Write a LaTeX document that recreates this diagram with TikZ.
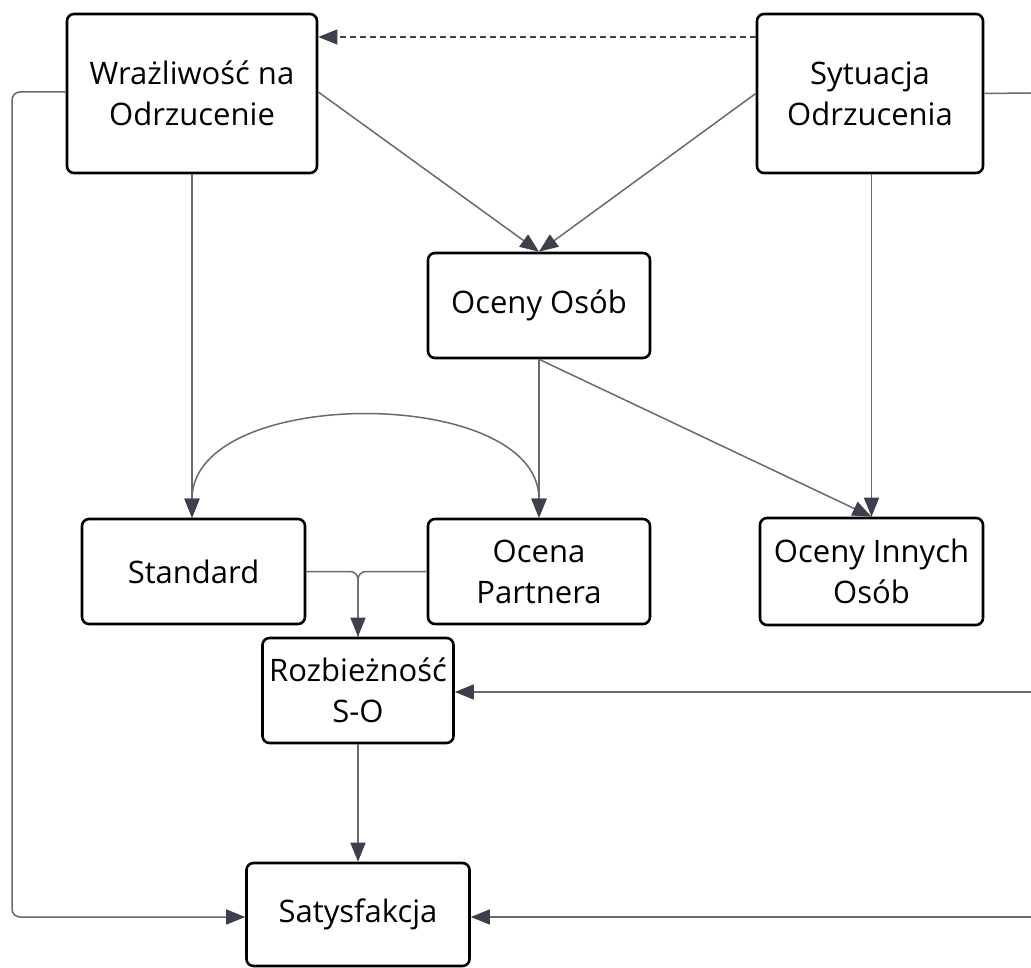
\documentclass[tikz,border=0pt]{standalone}
\usepackage{fontspec}
\setmainfont{Open Sans}
\usetikzlibrary{arrows.meta}
\definecolor{linec}{HTML}{6A6A6A}
\definecolor{tipc}{HTML}{3B404C}
\begin{document}
\begin{tikzpicture}[x=1pt,y=-1pt,
  box/.style={draw=black,line width=2.6pt,rounded corners=7pt,fill=white,
    align=center,inner sep=0pt,font=\fontsize{31}{41}\selectfont},
  conn/.style={draw=linec,line width=1.5pt},
  tip/.style={-{Triangle[length=19pt,width=15pt,color=tipc,fill=tipc]}},
  tipboth/.style={{Triangle[length=19pt,width=15pt,color=tipc,fill=tipc]}-{Triangle[length=19pt,width=15pt,color=tipc,fill=tipc]}}
]
\useasboundingbox (0,0) rectangle (1031,968);
\node[box,minimum width=250pt,minimum height=159pt] (W) at (192,93.5) {Wrażliwość na\\Odrzucenie};
\node[box,minimum width=226pt,minimum height=159pt] (S) at (870,93.5) {Sytuacja\\Odrzucenia};
\node[box,minimum width=222pt,minimum height=105pt] (OO) at (539,305.5) {Oceny Osób};
\node[box,minimum width=223pt,minimum height=105pt] (St) at (193.5,571.5) {Standard};
\node[box,minimum width=222pt,minimum height=105pt] (OP) at (539,571.5) {Ocena\\Partnera};
\node[box,minimum width=223pt,minimum height=107pt] (OI) at (871.5,571.5) {Oceny Innych\\Osób};
\node[box,minimum width=191pt,minimum height=105pt] (R) at (358,690.5) {Rozbieżność\\S-O};
\node[box,minimum width=223pt,minimum height=103pt] (Sat) at (358,914.5) {Satysfakcja};

\coordinate (E1) at (1031,93);
\coordinate (E2) at (1031,692);
\coordinate (E3) at (1031,917);
\coordinate (L1) at (12,92);

% dashed
\draw[conn,draw=tipc,line width=1.2pt,dash pattern=on 6pt off 4pt,tip] (S.west |- 0,37) -- (W.east |- 0,37);
% top arrows
\draw[conn,tip] ([yshift=1.5pt]W.east) -- (OO.north);
\draw[conn,tip] (S.west) -- (OO.north);
\draw[conn,tip] (W.south) -- (St.north -| W.south);
\draw[conn,tip] (S.south -| OI.north) -- (OI.north);
\draw[conn,tip] (OO.south) -- (OP.north);
\draw[conn,tip] (OO.south) -- (OI.north);
% curved double arrow
\draw[conn,tipboth] (St.north -| W.south) .. controls (192,385) and (539,385) .. (OP.north);
% merge into R
\draw[conn,rounded corners=8pt] (St.east) -| (R.north);
\draw[conn,rounded corners=8pt,tip] (OP.west) -| (R.north);
\draw[conn,tip] (R.south) -- (Sat.north);
% left loop
\draw[conn,rounded corners=8pt,tip] (W.west |- L1) -- (L1) -- (L1 |- E3) -- (Sat.west |- E3);
% right exits
\draw[conn] (S.east) -- (E1);
\draw[conn,tip] (E2) -- (R.east |- E2);
\draw[conn,tip] (E3) -- (Sat.east |- E3);
\end{tikzpicture}
\end{document}
